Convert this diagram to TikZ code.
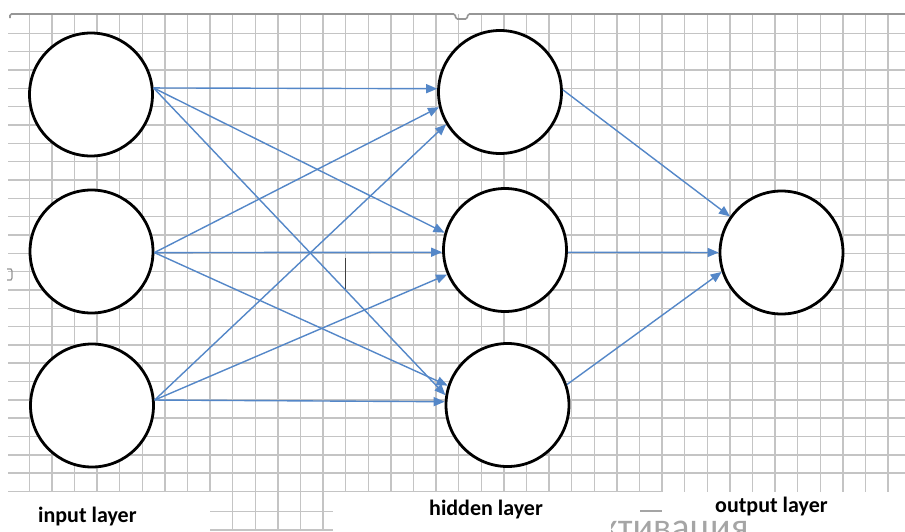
\documentclass[tikz,border=0pt]{standalone}
\usepackage{fontspec}
\setmainfont{Carlito}
\usetikzlibrary{arrows.meta}
\definecolor{gridc}{RGB}{196,196,196}
\definecolor{edgec}{RGB}{84,135,200}
\definecolor{bordc}{RGB}{150,150,150}
\definecolor{ghost}{RGB}{165,165,165}
\begin{document}
\begin{tikzpicture}[x=1pt,y=-1pt,
  neuron/.style={circle,draw=black,line width=2.8pt,fill=white,minimum size=123pt,inner sep=0pt},
  edge/.style={draw=edgec,line width=1.4pt,-{Triangle[length=11pt,width=9pt]}},
  gridline/.style={draw=gridc,line width=1.5pt},
  lbl/.style={font=\bfseries\fontsize{22}{26}\selectfont,anchor=base west,inner sep=0pt,text=black}]
\useasboundingbox[fill=white] (0,0) rectangle (905,531);
% grid
\foreach \k in {0,...,24} \draw[gridline] (8,{33.3+18.33*\k}) -- (905,{33.3+18.33*\k});
\draw[gridline] (8,491.6) -- (662,491.6);
\foreach \k in {0,...,38} \draw[gridline] ({29.3+22.6*\k},14) -- ({29.3+22.6*\k},492);
% bottom patch of grid
\draw[gridline] (210,511.7) -- (333,511.7);
\draw[gridline] (210,530) -- (333,530);
\foreach \k in {9,...,13} \draw[gridline] ({29.3+22.6*\k},492) -- ({29.3+22.6*\k},531);
% border and small marks
\draw[bordc,line width=1.6pt,rounded corners=1.5pt] (10,18) -- (10,14) -- (455,14) -- (456,19) -- (467,19) -- (468,14) -- (905,14);
\draw[bordc,line width=1.2pt] (7,269) -- (11,269) -- (12,271) -- (12,278) -- (11,280) -- (7,280);
\draw[black!75,line width=1pt] (345,258) -- (345,290);
% neurons
\node[neuron] (i1) at (91,94.5) {};
\node[neuron] (i2) at (91.5,251.5) {};
\node[neuron] (i3) at (92,405.5) {};
\node[neuron] (h1) at (500,92) {};
\node[neuron] (h2) at (505,250) {};
\node[neuron] (h3) at (507.5,405) {};
\node[neuron] (o) at (781.5,252.5) {};
% connections
\draw[edge] (i1.6) -- (h1.177);
\draw[edge] (i1.6) -- (h2.164);
\draw[edge] (i1.6) -- (h3.171);
\draw[edge] (i2.-1) -- (h1.194);
\draw[edge] (i2.-1) -- (h2.182);
\draw[edge] (i2.-1) -- (h3.162);
\draw[edge] (i3.5) -- (h1.211);
\draw[edge] (i3.5) -- (h2.203);
\draw[edge] (i3.5) -- (h3.177);
\draw[edge] (h1.2) -- (o.145);
\draw[edge] (h2.-2) -- (o.180);
\draw[edge] (h3.19) -- (o.198);
% labels
\node[lbl] (l1) at (38,522) {input layer};
\node[lbl] (l2) at (429,515) {hidden layer};
\node[lbl] (l3) at (715,512) {output layer};
% faint text fragments at the bottom (cut off by the edge, as in the reference)
\draw[ghost,line width=1.3pt] (640,511) -- (662,511);
\begin{scope}
\clip (611,500) rectangle (905,531);
\node[font=\fontsize{38}{40}\selectfont,text=ghost,anchor=base west,inner sep=0pt] (g) at (600,539) {ктивация};
\end{scope}
\end{tikzpicture}
\end{document}
